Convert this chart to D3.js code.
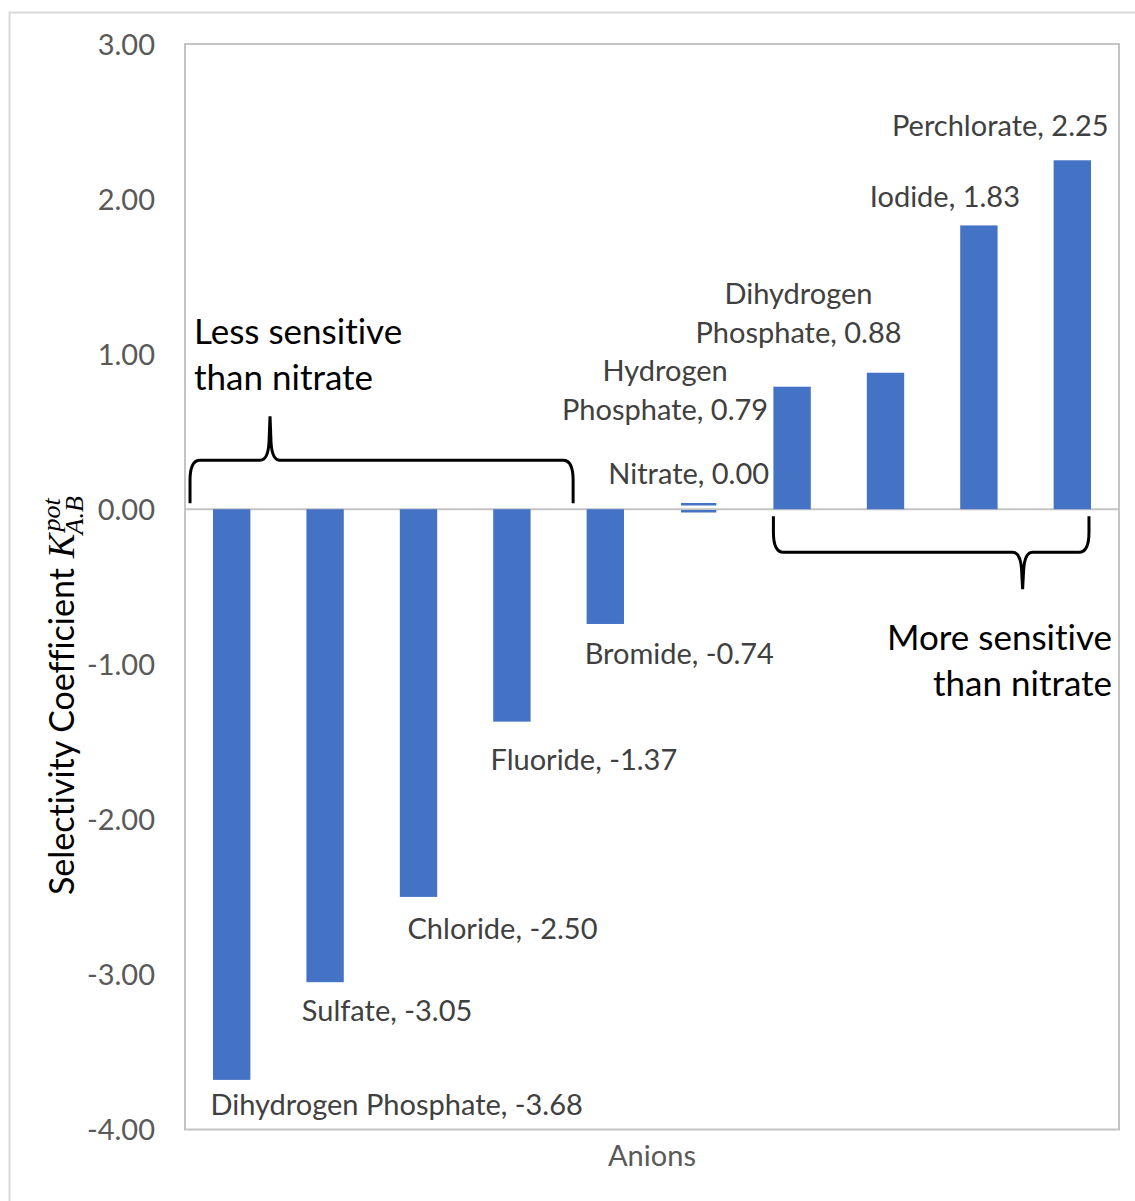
<!DOCTYPE html>
<html>
<head>
<meta charset="utf-8">
<script src="https://cdn.jsdelivr.net/npm/d3@7"></script>
<style>
  body { margin: 0; background: #fff; }
  svg { display: block; }
  text { font-variant-ligatures: none; font-feature-settings: "liga" 0, "clig" 0; }
</style>
</head>
<body>
<svg id="chart" width="1135" height="1201"></svg>
<script>
// Selectivity coefficients of interfering anions relative to nitrate
const categories = [
  "Dihydrogen Phosphate", "Sulfate", "Chloride", "Fluoride", "Bromide",
  "Nitrate", "Hydrogen Phosphate", "Dihydrogen Phosphate", "Iodide", "Perchlorate"
];
const selectivity = [-3.68, -3.05, -2.50, -1.37, -0.74, 0.00, 0.79, 0.88, 1.83, 2.25];
const yTicks = [3, 2, 1, 0, -1, -2, -3, -4];
// labels broken after the first word
const wrappedLabels = [false, false, false, false, false, false, true, true, false, false];
// label placement relative to the bar end: [dx, dy] of the last line's centre
const labelOffsets = [
  [165, 25], [62, 29], [84, 32], [72, 38], [74, 30],
  [-10, -35], [-127, 23.5], [-87, -39.6], [-34, -29], [-72, -34]
];

const svg = d3.select("#chart");
const plot = { left: 185, right: 1119, top: 44, bottom: 1129.5 };
const labelFont = "Lato, 'Open Sans', sans-serif";
const labelSize = 29;

const x = d3.scaleBand()
  .domain(d3.range(categories.length))
  .range([plot.left, plot.right])
  .paddingInner(0.6)
  .paddingOuter(0.3);
const y = d3.scaleLinear().domain([-4, 3]).range([plot.bottom, plot.top]);

// chart frame (extends past the page edge)
svg.append("rect")
  .attr("x", 9.5).attr("y", 12.5).attr("width", 1160).attr("height", 1220)
  .attr("fill", "#fff").attr("stroke", "#d9d9d9").attr("stroke-width", 2);

// plot area
svg.append("rect")
  .attr("x", plot.left).attr("y", plot.top)
  .attr("width", plot.right - plot.left).attr("height", plot.bottom - plot.top)
  .attr("fill", "none").attr("stroke", "#c4c4c4").attr("stroke-width", 2);

// y axis labels
const yAxis = d3.axisLeft(y)
  .tickValues(yTicks)
  .tickSize(0)
  .tickPadding(30)
  .tickFormat(d => d.toFixed(2));
const gy = svg.append("g").attr("transform", `translate(${plot.left},0)`).call(yAxis);
gy.select(".domain").remove();
gy.selectAll("text")
  .attr("font-family", labelFont)
  .attr("font-size", labelSize)
  .attr("fill", "#595959")
  .attr("dy", "0.35em");

// zero line
svg.append("line")
  .attr("x1", plot.left).attr("x2", plot.right)
  .attr("y1", y(0)).attr("y2", y(0))
  .attr("stroke", "#c4c4c4").attr("stroke-width", 2);

// bars
const bars = categories.map((c, i) => ({ i, name: c, value: selectivity[i] }));
svg.append("g").selectAll("rect")
  .data(bars.filter(d => d.value !== 0))
  .join("rect")
  .attr("x", d => x(d.i))
  .attr("width", x.bandwidth())
  .attr("y", d => Math.min(y(d.value), y(0)))
  .attr("height", d => Math.abs(y(d.value) - y(0)))
  .attr("fill", "#4472c4");

// zero-valued bar: drawn as a pair of thin strokes on the axis
const zeroBars = bars.filter(d => d.value === 0);
const zeroG = svg.append("g").attr("stroke", "#4472c4").attr("stroke-width", 2.5);
zeroBars.forEach(d => {
  [-5, 2].forEach(off => {
    zeroG.append("line")
      .attr("x1", x(d.i) + 1).attr("x2", x(d.i) + x.bandwidth() - 1)
      .attr("y1", y(d.value) + off).attr("y2", y(d.value) + off);
  });
});

// data labels
const labels = svg.append("g")
  .attr("font-family", labelFont)
  .attr("font-size", labelSize)
  .attr("fill", "#404040")
  .attr("text-anchor", "middle");
bars.forEach(d => {
  const text = `${d.name}, ${d.value.toFixed(2)}`;
  const [dx, dy] = labelOffsets[d.i];
  const cx = x(d.i) + x.bandwidth() / 2 + dx;
  const cy = y(d.value) + dy;
  let lines = [text];
  if (wrappedLabels[d.i]) {
    const k = text.indexOf(" ");
    lines = [text.slice(0, k), text.slice(k + 1)];
  }
  const t = labels.append("text");
  lines.forEach((ln, j) => {
    t.append("tspan")
      .attr("x", cx)
      .attr("y", cy - (lines.length - 1 - j) * 39)
      .attr("dy", "0.35em")
      .text(ln);
  });
});

// x axis title
svg.append("text")
  .attr("x", (plot.left + plot.right) / 2)
  .attr("y", 1156).attr("dy", "0.35em")
  .attr("text-anchor", "middle")
  .attr("font-family", labelFont).attr("font-size", labelSize)
  .attr("fill", "#595959")
  .text("Anions");

// y axis title: Selectivity Coefficient K^pot_A.B
const title = svg.append("g").attr("transform", "translate(74,895) rotate(-90)");
const tMain = title.append("text")
  .attr("x", 0).attr("y", 0)
  .attr("font-family", labelFont).attr("font-size", 34)
  .attr("fill", "#000")
  .text("Selectivity Coefficient");
const mainW = tMain.node().getComputedTextLength() + 10;
const mathFont = "'Liberation Serif', 'DejaVu Serif', serif";
const tK = title.append("text")
  .attr("x", mainW).attr("y", 0)
  .attr("font-family", mathFont).attr("font-style", "italic").attr("font-size", 37)
  .attr("fill", "#000").text("K");
const kW = tK.node().getComputedTextLength();
title.append("text")
  .attr("x", mainW + kW + 2).attr("y", -14)
  .attr("font-family", mathFont).attr("font-style", "italic").attr("font-size", 26)
  .attr("fill", "#000").text("pot");
title.append("text")
  .attr("x", mainW + kW - 1).attr("y", 9)
  .attr("font-family", mathFont).attr("font-style", "italic").attr("font-size", 26)
  .attr("fill", "#000").text("A.B");

// braces marking the two groups
const brace = svg.append("g").attr("fill", "none").attr("stroke", "#000").attr("stroke-width", 3);
{
  const x0 = x(0) - 23, x1 = x(4) - 13.5, tip = x(0) + 57;
  const yb = y(0) - 6, yh = y(0) - 49, yt = y(0) - 93;
  brace.append("path").attr("d",
    `M${x0},${yb} L${x0},${yh + 20} Q${x0},${yh} ${x0 + 10},${yh} L${tip - 10},${yh} ` +
    `Q${tip - 2},${yh} ${tip - 1},${yh - 18} L${tip},${yt} L${tip + 1},${yh - 18} ` +
    `Q${tip + 2},${yh} ${tip + 10},${yh} L${x1 - 10},${yh} Q${x1},${yh} ${x1},${yh + 20} L${x1},${yb}`);
}
{
  const x0 = x(6), x1 = x(9) + x.bandwidth() - 2, tip = x(9) - 31;
  const yb = y(0) + 7, yh = y(0) + 43, yt = y(0) + 80;
  brace.append("path").attr("d",
    `M${x0},${yb} L${x0},${yh - 20} Q${x0},${yh} ${x0 + 10},${yh} L${tip - 10},${yh} ` +
    `Q${tip - 2},${yh} ${tip - 1},${yh + 18} L${tip},${yt} L${tip + 1},${yh + 18} ` +
    `Q${tip + 2},${yh} ${tip + 10},${yh} L${x1 - 10},${yh} Q${x1},${yh} ${x1},${yh - 20} L${x1},${yb}`);
}

// group annotations
const note = svg.append("g")
  .attr("font-family", labelFont).attr("font-size", 35).attr("fill", "#000");
note.append("text").attr("x", 194).attr("y", 332).attr("dy", "0.35em").text("Less sensitive");
note.append("text").attr("x", 194).attr("y", 378).attr("dy", "0.35em").text("than nitrate");
note.append("text").attr("x", 1112).attr("y", 638).attr("dy", "0.35em").attr("text-anchor", "end").text("More sensitive");
note.append("text").attr("x", 1112).attr("y", 684).attr("dy", "0.35em").attr("text-anchor", "end").text("than nitrate");
</script>
</body>
</html>
